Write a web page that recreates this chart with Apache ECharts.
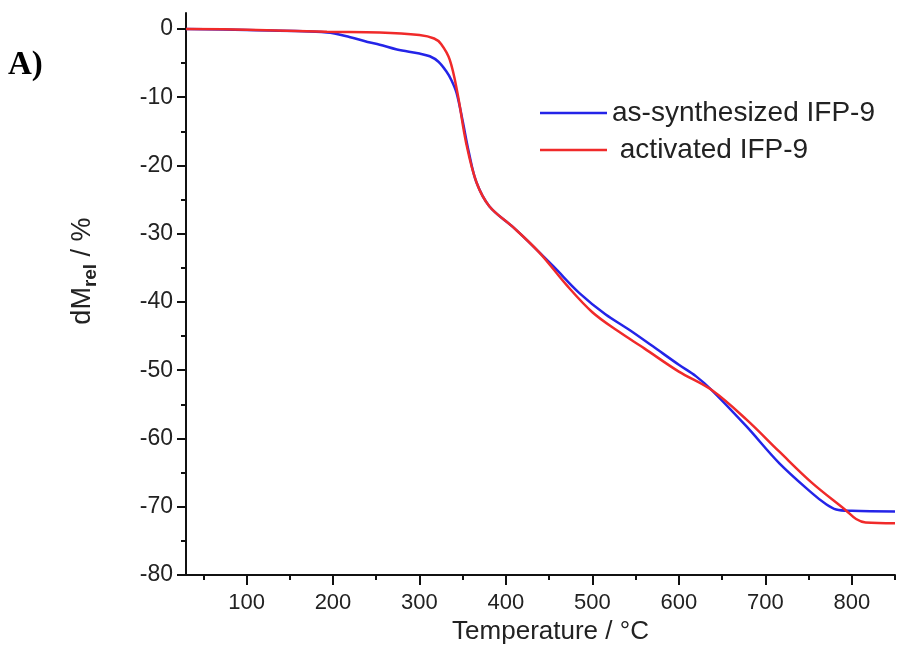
<!DOCTYPE html>
<html>
<head>
<meta charset="utf-8">
<script src="https://cdn.jsdelivr.net/npm/echarts@6/dist/echarts.min.js"></script>
<style>
  html, body { margin: 0; padding: 0; background: #fff; }
  #main { width: 900px; height: 664px; }
</style>
</head>
<body>
<div id="main"></div>
<script>
// TGA curves
var tempBlue = [30, 100, 193, 220, 240, 254, 274, 300, 312, 322, 331, 337, 343, 350, 357, 366, 381, 408, 424, 455, 485, 515, 543, 570, 600, 620, 638, 678, 716, 754, 770, 782, 800, 850];
var massBlue = [0, -0.15, -0.5, -1.2, -1.9, -2.3, -3.0, -3.6, -4.0, -4.8, -6.2, -7.5, -9.4, -13.5, -18, -22.5, -26, -29, -30.9, -34.8, -38.7, -41.8, -44.1, -46.5, -49.2, -50.9, -52.9, -58.2, -63.6, -68, -69.6, -70.4, -70.6, -70.7];

var tempRed = [30, 100, 193, 254, 300, 317, 325, 335, 344, 354, 366, 381, 408, 439, 470, 500, 530, 560, 600, 638, 678, 716, 754, 793, 805, 816, 850];
var massRed = [0, -0.1, -0.4, -0.5, -0.9, -1.4, -2.2, -4.5, -9.4, -16.7, -22.5, -26, -29, -32.8, -37.5, -41.5, -44.3, -46.8, -50.2, -52.9, -57.2, -61.9, -66.5, -70.5, -71.8, -72.3, -72.4];

var seriesNames = ['as-synthesized IFP-9', ' activated IFP-9'];
var yMajor = [0, -10, -20, -30, -40, -50, -60, -70, -80];
var yMinor = [-5, -15, -25, -35, -45, -55, -65, -75];
var xMajor = [100, 200, 300, 400, 500, 600, 700, 800];
var xMinor = [50, 150, 250, 350, 450, 550, 650, 750, 850];

function pairs(xs, ys) {
    return xs.map(function (x, i) { return [x, ys[i]]; });
}

var font = 'Liberation Sans';
var chart = echarts.init(document.getElementById('main'));

chart.setOption({
    animation: false,
    textStyle: { fontFamily: font },
    title: {
        text: 'A)',
        left: 3,
        top: 44,
        textStyle: { fontFamily: 'Liberation Serif', fontWeight: 'bold', fontSize: 33, color: '#000' }
    },
    legend: {
        orient: 'vertical',
        left: 535,
        top: 93,
        icon: 'rect',
        itemWidth: 67,
        itemHeight: 2.5,
        itemGap: 7,
        textStyle: { fontSize: 28, lineHeight: 30, color: '#222', fontFamily: font },
        data: seriesNames
    },
    grid: { left: 186, right: 5, top: 13, bottom: 89, containLabel: false },
    xAxis: [{
        type: 'value',
        min: 30,
        max: 850,
        name: 'Temperature / °C',
        nameLocation: 'middle',
        nameGap: 42,
        nameTextStyle: { fontSize: 26, color: '#222', fontFamily: font, padding: [0, 0, 0, 20] },
        splitLine: { show: false },
        axisLine: { onZero: false, lineStyle: { color: '#111', width: 2 } },
        axisTick: { customValues: xMajor, length: 10, lineStyle: { color: '#111', width: 2 } },
        axisLabel: { customValues: xMajor, fontSize: 22, color: '#222', margin: 17 }
    }, {
        type: 'value',
        min: 30,
        max: 850,
        position: 'bottom',
        splitLine: { show: false },
        axisLine: { show: false, onZero: false },
        axisTick: { customValues: xMinor, length: 5, lineStyle: { color: '#111', width: 2 } },
        axisLabel: { show: false }
    }],
    yAxis: [{
        type: 'value',
        min: -80,
        max: 2.34,
        name: '{n|dM}{s|rel}{n| / %}',
        nameLocation: 'middle',
        nameRotate: 90,
        nameGap: 86,
        nameTextStyle: {
            padding: [0, 0, 0, 46],
            rich: {
                n: { fontSize: 27, color: '#222', fontFamily: font },
                s: { fontSize: 19, fontWeight: 'bold', color: '#222', fontFamily: font, padding: [15, 0, 0, 0] }
            }
        },
        splitLine: { show: false },
        axisLine: { onZero: false, lineStyle: { color: '#111', width: 2 } },
        axisTick: { customValues: yMajor, length: 9, lineStyle: { color: '#111', width: 2 } },
        axisLabel: { customValues: yMajor, fontSize: 23, color: '#222', margin: 13 }
    }, {
        type: 'value',
        min: -80,
        max: 2.34,
        position: 'left',
        splitLine: { show: false },
        axisLine: { show: false, onZero: false },
        axisTick: { customValues: yMinor, length: 5, lineStyle: { color: '#111', width: 2 } },
        axisLabel: { show: false }
    }],
    series: [{
        name: seriesNames[0],
        type: 'line',
        data: pairs(tempBlue, massBlue),
        symbol: 'none',
        smooth: 0.35,
        color: '#2424e8',
        lineStyle: { width: 2.5, color: '#2424e8' },
        z: 3
    }, {
        name: seriesNames[1],
        type: 'line',
        data: pairs(tempRed, massRed),
        symbol: 'none',
        smooth: 0.35,
        color: '#f02a2a',
        lineStyle: { width: 2.5, color: '#f02a2a' },
        z: 4
    }]
});
</script>
</body>
</html>
